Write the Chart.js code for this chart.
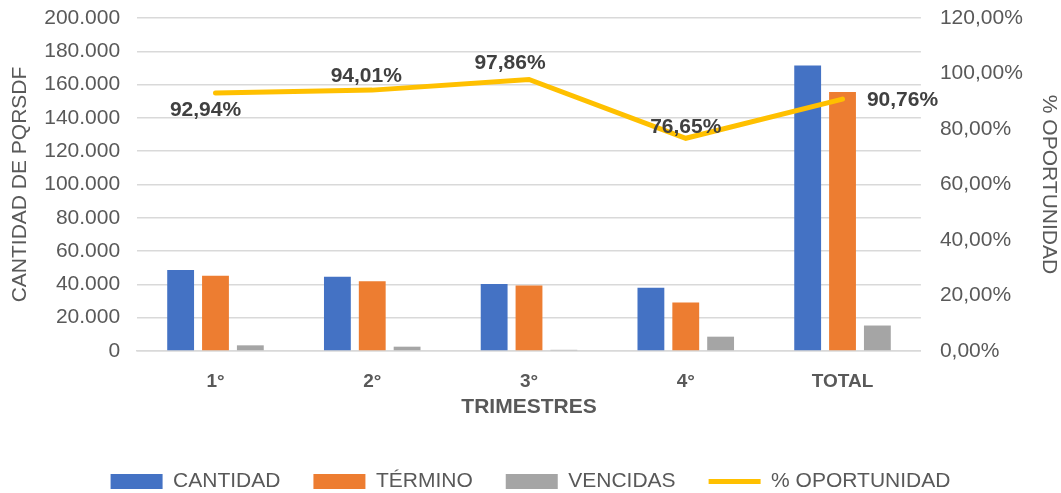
<!DOCTYPE html>
<html>
<head>
<meta charset="utf-8">
<script src="https://cdn.jsdelivr.net/npm/chart.js@4/dist/chart.umd.min.js"></script>
<style>
  html, body { margin: 0; padding: 0; background: #fff; }
  #wrap { width: 1061px; height: 493px; }
</style>
</head>
<body>
<div id="wrap"><canvas id="grafico"></canvas></div>
<script>
// datos
var trimestres = ['1°', '2°', '3°', '4°', 'TOTAL'];
var cantidad = [48600, 44600, 40200, 38000, 171400];
var termino = [45200, 41900, 39300, 29100, 155500];
var vencidas = [3400, 2600, 700, 8600, 15300];
var oportunidad = [0.9294, 0.9401, 0.9786, 0.7665, 0.9076];

// desplazamiento de cada etiqueta respecto a su punto
var desplazaEtiqueta = [[-10, 17], [-6, -14], [-19, -16], [0, -11], [60, 1]];

var fuente = 'Liberation Sans, Arial, sans-serif';
var gris = '#595959';

function miles(v) {
    return String(v).replace(/\B(?=(\d{3})+(?!\d))/g, '.');
}

function porcentaje(v) {
    return (v * 100).toFixed(2).replace('.', ',') + '%';
}

// el area del grafico empieza casi arriba
function margenArriba(escala) {
    escala.paddingTop = 18;
}

var etiquetasLinea = {
    id: 'etiquetasLinea',
    afterDatasetsDraw: function (chart) {
        var meta = chart.getDatasetMeta(3);
        var ctx = chart.ctx;
        ctx.save();
        ctx.font = 'bold 21px ' + fuente;
        ctx.fillStyle = '#404040';
        ctx.textAlign = 'center';
        ctx.textBaseline = 'middle';
        meta.data.forEach(function (punto, i) {
            var d = desplazaEtiqueta[i];
            ctx.fillText(porcentaje(oportunidad[i]), punto.x + d[0], punto.y + d[1]);
        });
        ctx.restore();
    }
};

// leyenda mas baja: se fija su alto
var altoLeyenda = {
    id: 'altoLeyenda',
    beforeInit: function (chart) {
        var fitOriginal = chart.legend.fit;
        chart.legend.fit = function () {
            fitOriginal.call(this);
            this.height = 55;
        };
    }
};

var ctx = document.getElementById('grafico').getContext('2d');
var grafico = new Chart(ctx, {
    type: 'bar',
    data: {
        labels: trimestres,
        datasets: [{
            label: 'CANTIDAD',
            data: cantidad,
            backgroundColor: '#4472C4',
            yAxisID: 'y',
            order: 1,
            pointStyle: 'rect'
        }, {
            label: 'TÉRMINO',
            data: termino,
            backgroundColor: '#ED7D31',
            yAxisID: 'y',
            order: 1,
            pointStyle: 'rect'
        }, {
            label: 'VENCIDAS',
            data: vencidas,
            backgroundColor: '#A5A5A5',
            yAxisID: 'y',
            order: 1,
            pointStyle: 'rect'
        }, {
            type: 'line',
            label: '% OPORTUNIDAD',
            data: oportunidad,
            borderColor: '#FFC000',
            backgroundColor: '#FFC000',
            borderWidth: 5,
            borderCapStyle: 'round',
            borderJoinStyle: 'miter',
            tension: 0,
            pointRadius: 0,
            pointStyle: 'line',
            yAxisID: 'y1',
            order: 0
        }]
    },
    options: {
        responsive: true,
        maintainAspectRatio: false,
        animation: false,
        datasets: {
            bar: {
                categoryPercentage: 0.667,
                barPercentage: 0.77
            }
        },
        layout: {
            padding: { top: 0, left: 0, right: 0, bottom: 0 }
        },
        plugins: {
            tooltip: { enabled: false },
            legend: {
                position: 'bottom',
                labels: {
                    usePointStyle: true,
                    pointStyleWidth: 52,
                    boxHeight: 15,
                    padding: 33,
                    color: gris,
                    font: { family: fuente, size: 21 },
                    sort: function (a, b) { return a.datasetIndex - b.datasetIndex; }
                }
            }
        },
        scales: {
            x: {
                grid: { display: false, drawTicks: false },
                border: { display: true, color: '#D9D9D9', width: 1.5 },
                ticks: {
                    padding: 19,
                    color: gris,
                    font: { family: fuente, size: 19, weight: 'bold' }
                },
                title: {
                    display: true,
                    text: 'TRIMESTRES',
                    color: gris,
                    font: { family: fuente, size: 21, weight: 'bold' },
                    padding: { top: -17, bottom: 18 }
                }
            },
            y: {
                position: 'left',
                min: 0,
                max: 200000,
                afterFit: margenArriba,
                ticks: {
                    stepSize: 20000,
                    padding: 17,
                    color: gris,
                    font: { family: fuente, size: 21 },
                    callback: function (v) { return miles(v); }
                },
                grid: { color: '#D9D9D9', lineWidth: 1.5, drawTicks: false },
                border: { display: false },
                title: {
                    display: true,
                    text: 'CANTIDAD DE PQRSDF',
                    color: gris,
                    font: { family: fuente, size: 21 },
                    padding: { top: 8, bottom: -6 }
                }
            },
            y1: {
                position: 'right',
                min: 0,
                max: 1.2,
                afterFit: margenArriba,
                ticks: {
                    stepSize: 0.2,
                    padding: 19,
                    color: gris,
                    font: { family: fuente, size: 21 },
                    callback: function (v) { return porcentaje(v); }
                },
                grid: { drawOnChartArea: false, drawTicks: false },
                border: { display: false },
                title: {
                    display: true,
                    text: '% OPORTUNIDAD',
                    color: gris,
                    font: { family: fuente, size: 21 },
                    padding: { top: 0, bottom: -6 }
                }
            }
        }
    },
    plugins: [etiquetasLinea, altoLeyenda]
});
</script>
</body>
</html>
